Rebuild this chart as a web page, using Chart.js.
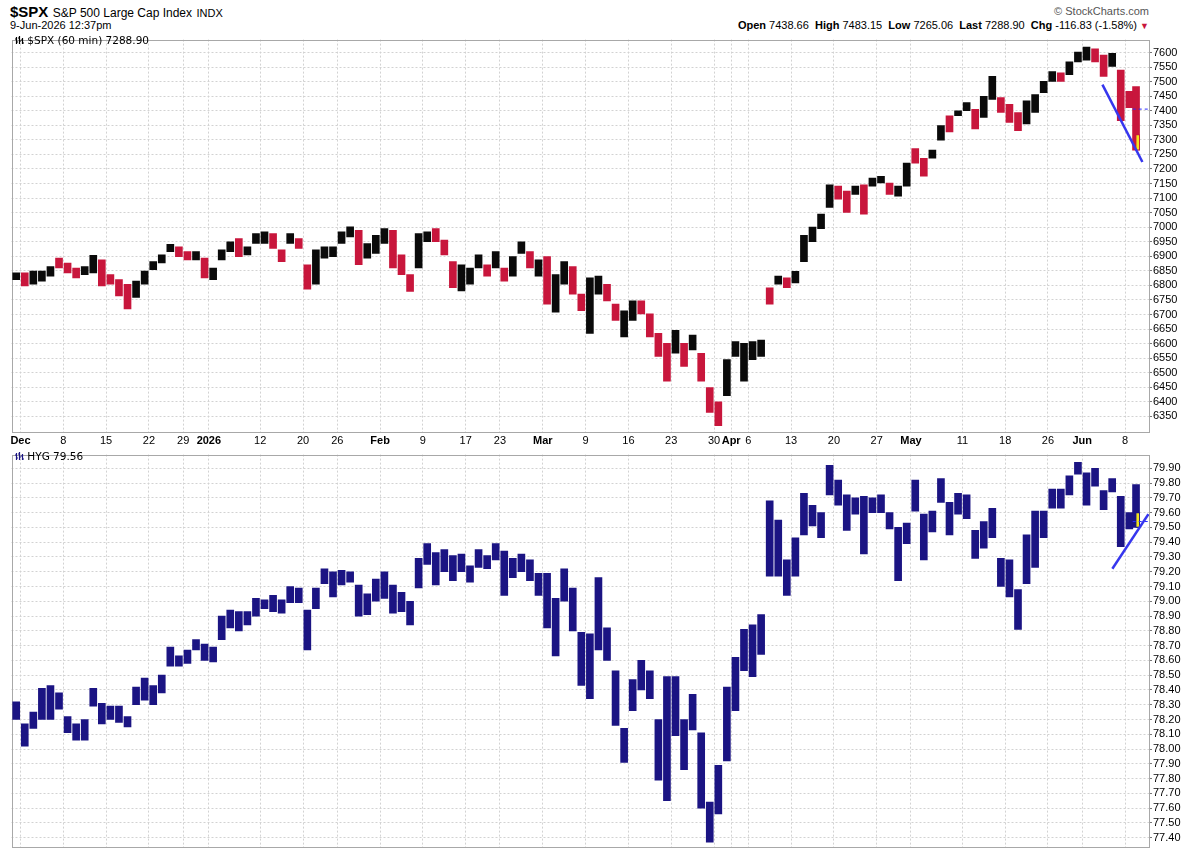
<!DOCTYPE html>
<html>
<head>
<meta charset="utf-8">
<script src="https://cdn.jsdelivr.net/npm/chart.js@4.4.1/dist/chart.umd.min.js"></script>
<style>
  html, body { margin:0; padding:0; background:#fff; }
  body { width:1194px; height:856px; overflow:hidden; position:relative; font-family:"Liberation Sans", Arial, sans-serif; color:#000; }
  .abs { position:absolute; white-space:nowrap; }
  #w1 { position:absolute; left:0; top:32px; width:1194px; height:415px; }
  #w2 { position:absolute; left:0; top:447px; width:1194px; height:409px; }
  .plab { font-family:"DejaVu Sans", Verdana, sans-serif; font-size:10.5px; line-height:12px; padding:0 2px 0 1px; }
</style>
</head>
<body>
<div class="abs" style="left:10px;top:4px;line-height:16px;"><span style="font-weight:bold;font-size:15px;">$SPX</span> <span style="font-size:12px;">S&amp;P 500 Large Cap Index</span> <span style="font-size:11px;">INDX</span></div>
<div class="abs" style="left:10px;top:19px;font-size:11px;line-height:13px;">9-Jun-2026 12:37pm</div>
<div class="abs" style="right:45px;top:5px;font-size:11px;line-height:13px;color:#555;">&#169; StockCharts.com</div>
<div class="abs" style="right:45px;top:19px;font-size:11px;line-height:13px;"><b>Open</b> 7438.66&nbsp; <b>High</b> 7483.15&nbsp; <b>Low</b> 7265.06&nbsp; <b>Last</b> 7288.90&nbsp; <b>Chg</b> -116.83 (-1.58%) <span style="color:#c8163c;font-size:9px;">&#9660;</span></div>

<div id="w1"><canvas id="c1"></canvas></div>
<div id="w2"><canvas id="c2"></canvas></div>

<div class="abs plab" style="left:14px;top:34px;"><svg width="9" height="9" viewBox="0 0 9 9" style="vertical-align:-1px"><path d="M1.5 1v7M0 3h1.5M1.5 6h1.5M4.5 0v8M3 2h1.5M4.5 5h1.5M7.5 2v6M6 4h1.5M7.5 7h1.5" stroke="#000" stroke-width="1.2" fill="none"/></svg> $SPX (60 min) 7288.90</div>
<div class="abs plab" style="left:14px;top:450px;"><svg width="9" height="9" viewBox="0 0 9 9" style="vertical-align:-1px"><path d="M1.5 1v7M0 3h1.5M1.5 6h1.5M4.5 0v8M3 2h1.5M4.5 5h1.5M7.5 2v6M6 4h1.5M7.5 7h1.5" stroke="#1b1483" stroke-width="1.2" fill="none"/></svg> HYG 79.56</div>

<script>
// ---- Data (one entry per trading session, first session = Nov 28 2025, last = Jun 9 2026 partial) ----
const firstDay = -1;            // session index of first entry (Dec 1 2025 = 0)
const lastSessionFrac = 4 / 7;  // Jun 9 only partially traded at 12:37pm

const spxLow  = [6820,6798,6804,6815,6832,6860,6843,6826,6837,6843,6798,6804,6764,6719,6759,6804,6854,6877,6916,6899,6888,6888,6826,6820,6888,6916,6899,6905,6944,6944,6927,6882,6944,6927,6787,6804,6894,6899,6944,6967,6871,6894,6910,
                 6944,6860,6837,6779,6860,6950,6950,6905,6792,6781,6804,6860,6832,6860,6815,6832,6910,6860,6832,6736,6708,6804,6770,6713,6635,6770,6747,6680,6623,6680,6702,6623,6556,6471,6567,6522,6578,6471,6364,6318,6421,6556,6471,6545,6556,
                 6736,6804,6792,6809,6882,6950,6995,7068,7096,7051,7113,7045,7141,7152,7113,7107,7141,7220,7175,7237,7299,7327,7383,7400,7338,7377,7439,7394,7360,7332,7355,7394,7462,7501,7501,7524,7568,7574,7568,7518,7552,7366,7411,7265];
const spxHigh = [6843,6843,6849,6849,6865,6894,6877,6860,6865,6903,6888,6837,6820,6804,6815,6849,6882,6905,6941,6933,6916,6916,6894,6860,6922,6950,6961,6933,6978,6984,6978,6922,6978,6961,6871,6922,6933,6933,6984,7001,6989,6944,6972,
                 6995,6989,6905,6837,6978,6984,6995,6956,6882,6871,6860,6905,6871,6916,6860,6899,6950,6916,6888,6899,6837,6882,6865,6770,6826,6832,6804,6736,6713,6747,6747,6702,6635,6601,6646,6601,6629,6567,6449,6400,6545,6607,6601,6607,6612,
                 6792,6832,6826,6848,6972,7000,7045,7146,7141,7124,7141,7146,7169,7175,7152,7141,7220,7270,7237,7265,7349,7383,7400,7428,7405,7450,7518,7445,7422,7394,7434,7456,7501,7535,7530,7568,7602,7619,7613,7591,7597,7540,7467,7483];
// 1 = session closed up (black bars), 0 = closed down (red bars)
const spxUp   = [1,0,1,1,1,0,0,0,1,1,0,0,0,0,1,1,1,1,1,0,0,1,0,1,1,1,0,1,1,1,0,0,1,0,0,1,1,1,1,1,0,1,1,
                 1,0,0,0,1,1,0,0,0,1,1,1,0,1,0,1,1,0,1,0,1,1,0,0,1,1,0,0,1,1,0,0,0,0,1,0,1,0,0,0,1,1,1,1,1,
                 0,1,0,1,1,1,1,1,0,0,1,0,1,1,0,1,1,0,0,1,1,0,1,1,0,1,1,0,0,0,1,1,1,1,0,1,1,1,0,0,1,0,0,0];

const hygLow  = [78.20,78.02,78.14,78.20,78.20,78.27,78.11,78.06,78.06,78.29,78.17,78.20,78.18,78.15,78.30,78.33,78.30,78.38,78.56,78.56,78.58,78.67,78.60,78.59,78.74,78.82,78.80,78.84,78.90,78.95,78.93,78.92,78.99,78.99,78.67,78.95,79.12,79.03,79.11,79.13,78.90,78.91,79.00,
                 79.02,78.92,78.93,78.84,79.09,79.25,79.11,79.20,79.14,79.20,79.13,79.23,79.22,79.28,79.04,79.16,79.20,79.14,79.04,78.82,78.63,79.00,78.80,78.43,78.34,78.67,78.60,78.16,77.91,78.26,78.40,78.34,77.79,77.65,78.09,77.86,78.13,77.60,77.37,77.56,77.92,78.26,78.53,78.49,78.64,
                 79.17,79.17,79.04,79.17,79.45,79.51,79.43,79.72,79.65,79.48,79.59,79.32,79.60,79.60,79.49,79.14,79.39,79.61,79.28,79.47,79.67,79.45,79.59,79.56,79.29,79.36,79.43,79.10,79.03,78.81,79.12,79.23,79.43,79.63,79.63,79.72,79.86,79.65,79.78,79.62,79.74,79.37,79.49,79.50];
const hygHigh = [78.32,78.17,78.25,78.41,78.43,78.38,78.22,78.17,78.20,78.41,78.31,78.29,78.29,78.22,78.42,78.48,78.43,78.50,78.69,78.63,78.67,78.74,78.71,78.69,78.90,78.94,78.93,78.93,79.02,79.01,79.04,79.01,79.10,79.09,78.94,79.09,79.22,79.20,79.21,79.20,79.11,79.05,79.15,
                 79.20,79.11,79.06,79.00,79.29,79.39,79.33,79.35,79.31,79.32,79.24,79.35,79.31,79.39,79.34,79.29,79.32,79.28,79.19,79.19,79.02,79.22,79.09,78.79,78.78,79.16,78.82,78.53,78.14,78.47,78.60,78.53,78.20,78.49,78.49,78.20,78.37,78.11,77.64,77.89,78.42,78.62,78.81,78.84,78.91,
                 79.68,79.55,79.28,79.43,79.73,79.65,79.60,79.92,79.82,79.72,79.70,79.71,79.70,79.72,79.60,79.50,79.53,79.82,79.59,79.61,79.83,79.67,79.73,79.72,79.48,79.54,79.63,79.29,79.28,79.08,79.45,79.61,79.61,79.76,79.76,79.85,79.94,79.87,79.90,79.75,79.83,79.71,79.60,79.79];

// last hourly bar (highlighted) and previous close
const spxLastBar = [7265, 7318];
const hygLastBar = [79.50, 79.60];
const spxPrevClose = 7405.73;
const hygPrevClose = 79.54;

// hand-drawn trendlines (session index, value)
const spxTrendX = [126.36, 131.03];
const spxTrendY = [7490, 7224];
const hygTrendX = [127.52, 131.73];
const hygTrendY = [79.22, 79.59];

// x-axis ticks (session index of the labelled date)
const tickDays   = [0,5,10,15,19,22,28,33,37,42,47,52,56,61,66,71,76,81,83,85,90,95,100,104,110,115,120,124,129];
const tickLabels = ['Dec','8','15','22','29','2026','12','20','26','Feb','9','17','23','Mar','9','16','23','30','Apr','6','13','20','27','May','11','18','26','Jun','8'];
const boldLabels = ['Dec','2026','Feb','Mar','Apr','May','Jun'];

const spxTickVals = [6350,6400,6450,6500,6550,6600,6650,6700,6750,6800,6850,6900,6950,7000,7050,7100,7150,7200,7250,7300,7350,7400,7450,7500,7550,7600];
const hygTickVals = [77.4,77.5,77.6,77.7,77.8,77.9,78.0,78.1,78.2,78.3,78.4,78.5,78.6,78.7,78.8,78.9,79.0,79.1,79.2,79.3,79.4,79.5,79.6,79.7,79.8,79.9];

// ---- Build ----
const n = spxLow.length;
const xc = spxLow.map((_, i) => i === n - 1 ? firstDay + i + lastSessionFrac / 2 : firstDay + i + 0.5);
const lastX = firstDay + (n - 1) + lastSessionFrac * 0.85;
const prevCloseX = [firstDay + (n - 1) - 0.1, 131.8];

const RED = '#c8163c', BLK = '#0a0a0a', NAVY = '#1b1483', TREND = '#3636ee', GRID = '#d2d2d2';
const FONT = 'Liberation Sans';
const BAR_W = 7;

const framePlugin = {
  id: 'frame',
  beforeDatasetsDraw(chart) {
    const a = chart.chartArea, c = chart.ctx;
    c.save(); c.strokeStyle = '#a8a8a8'; c.lineWidth = 1;
    c.strokeRect(Math.round(a.left) + 0.5, Math.round(a.top) + 0.5, Math.round(a.right - a.left) - 1, Math.round(a.bottom - a.top) - 1);
    c.restore();
  }
};

function xScale(showLabels) {
  return {
    type: 'linear', min: -1.05, max: 131.8, offset: false, bounds: 'data',
    afterBuildTicks: s => { s.ticks = tickDays.map(v => ({ value: v })); },
    grid: { color: GRID, lineWidth: 1, drawTicks: false, offset: false },
    border: { display: false, dash: [2, 2] },
    ticks: {
      display: showLabels, autoSkip: false, maxRotation: 0, minRotation: 0, padding: 1, color: '#000',
      font: ctx => ({ family: FONT, size: 11, weight: boldLabels.includes(tickLabels[ctx.index]) ? 'bold' : 'normal' }),
      callback: (v, i) => tickLabels[i]
    },
    afterFit: s => { s.height = showLabels ? 14 : 8; }
  };
}

function yScale(min, max, vals, fmt) {
  return {
    position: 'right', min, max,
    afterBuildTicks: s => { s.ticks = vals.map(v => ({ value: v })); },
    grid: { color: GRID, lineWidth: 1, tickLength: 3, tickColor: '#777' },
    border: { display: false, dash: [2, 2] },
    ticks: { autoSkip: false, padding: 1, color: '#000', font: { family: FONT, size: 11 }, callback: v => fmt(v) },
    afterFit: s => { s.width = 45; }
  };
}

const common = {
  responsive: true, maintainAspectRatio: false, animation: false,
  layout: { padding: { left: 11.5, right: 0, top: 0, bottom: 0 } },
  plugins: { legend: { display: false }, tooltip: { enabled: false } },
  events: []
};

new Chart(document.getElementById('c1'), {
  type: 'bar',
  data: {
    datasets: [
      { type: 'line', order: 1, data: spxTrendX.map((x, i) => ({ x, y: spxTrendY[i] })), borderColor: TREND, borderWidth: 2.5, pointRadius: 0, fill: false },
      { type: 'line', order: 1, data: prevCloseX.map(x => ({ x, y: spxPrevClose })), borderColor: '#2a2aff', borderWidth: 1, borderDash: [3, 3], pointRadius: 0, fill: false },
      { type: 'bar', order: 2, grouped: false, data: [{ x: lastX, y: spxLastBar }], backgroundColor: '#f2e41c', borderColor: RED, borderWidth: 1, borderSkipped: false, barThickness: 4 },
      { type: 'bar', order: 3, grouped: false, data: spxLow.map((lo, i) => ({ x: xc[i], y: [lo, spxHigh[i]] })),
        backgroundColor: ctx => spxUp[ctx.dataIndex] ? BLK : RED, borderWidth: 0, barThickness: BAR_W }
    ]
  },
  options: Object.assign({}, common, {
    scales: { x: xScale(true), y: yScale(6293, 7644.5, spxTickVals, v => String(v)) }
  }),
  plugins: [framePlugin]
});

new Chart(document.getElementById('c2'), {
  type: 'bar',
  data: {
    datasets: [
      { type: 'line', order: 1, data: hygTrendX.map((x, i) => ({ x, y: hygTrendY[i] })), borderColor: TREND, borderWidth: 2.5, pointRadius: 0, fill: false },
      { type: 'line', order: 1, data: prevCloseX.map(x => ({ x, y: hygPrevClose })), borderColor: '#2a2aff', borderWidth: 1, borderDash: [3, 3], pointRadius: 0, fill: false },
      { type: 'bar', order: 2, grouped: false, data: [{ x: lastX, y: hygLastBar }], backgroundColor: '#f2e41c', borderColor: NAVY, borderWidth: 1, borderSkipped: false, barThickness: 4 },
      { type: 'bar', order: 3, grouped: false, data: hygLow.map((lo, i) => ({ x: xc[i], y: [lo, hygHigh[i]] })),
        backgroundColor: NAVY, borderWidth: 0, barThickness: BAR_W }
    ]
  },
  options: Object.assign({}, common, {
    scales: { x: xScale(false), y: yScale(77.33, 79.993, hygTickVals, v => v.toFixed(2)) }
  }),
  plugins: [framePlugin]
});
</script>
</body>
</html>
